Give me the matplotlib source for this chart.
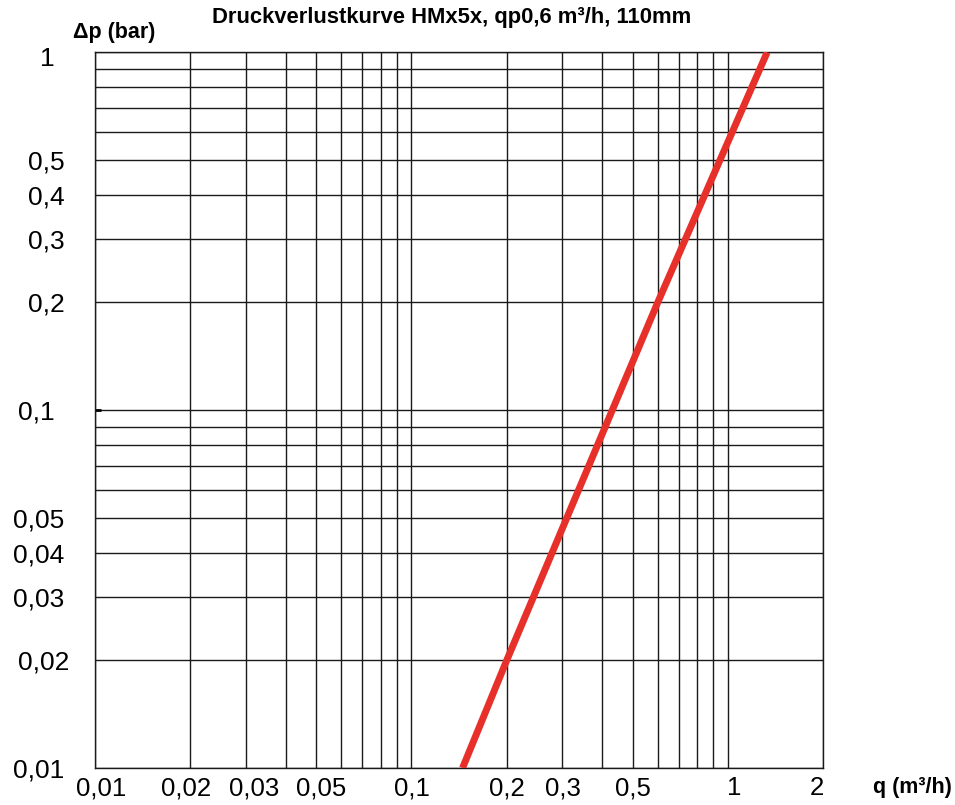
import matplotlib
matplotlib.use("Agg")
import matplotlib.pyplot as plt
import matplotlib.transforms as mtransforms

plt.rcParams['font.family'] = ['Liberation Sans', 'DejaVu Sans']

# curve: flow q (m³/h) vs pressure loss Δp (bar)
q_val = [0.145, 0.2, 0.6, 1.33]
dp_val = [0.01, 0.02, 0.2, 1.0]

# grid lines and labelled ticks
x_grid = [0.01, 0.02, 0.03, 0.04, 0.05, 0.06, 0.07, 0.08, 0.09,
          0.1, 0.2, 0.3, 0.4, 0.5, 0.6, 0.7, 0.8, 0.9, 1, 2]
x_labeled = [0.01, 0.02, 0.03, 0.05, 0.1, 0.2, 0.3, 0.5, 1, 2]
y_grid = [0.01, 0.02, 0.03, 0.04, 0.05, 0.06, 0.07, 0.08, 0.09,
          0.1, 0.2, 0.3, 0.4, 0.5, 0.6, 0.7, 0.8, 0.9, 1]
y_labeled = [0.01, 0.02, 0.03, 0.04, 0.05, 0.1, 0.2, 0.3, 0.4, 0.5, 1]

# small nudges (pixels) of some labels, as in the original drawing
x_nudge = {0.01: 6, 0.02: -4, 0.03: 8, 0.05: 5, 1: 6, 2: -6}
y_nudge = {1: (-10, -4), 0.1: (-10, 0), 0.02: (5, 0)}


def fmt(v):
    return ('%g' % v).replace('.', ',')


fig = plt.figure(figsize=(9.55, 8.05), dpi=100)
ax = fig.add_axes([0.0995, 0.046, 0.7625, 0.889])
ax.set_xscale('log')
ax.set_yscale('log')
ax.set_xlim(0.01, 2)
ax.set_ylim(0.01, 1)

for xv in x_grid:
    ax.axvline(xv, color='#1a1a1a', lw=1.0, zorder=1)
for yv in y_grid:
    ax.axhline(yv, color='#1a1a1a', lw=1.0, zorder=1)

ax.plot(q_val, dp_val, color='#e8302a', lw=5, solid_capstyle='butt', zorder=3)

ax.minorticks_off()
ax.set_xticks(x_grid)
ax.set_xticklabels([fmt(v) if v in x_labeled else '' for v in x_grid])
ax.set_yticks(y_grid)
ax.set_yticklabels([fmt(v) if v in y_labeled else '' for v in y_grid])
ax.tick_params(axis='x', length=0, pad=6, labelsize=18.5)
ax.tick_params(axis='y', length=0, pad=22, labelsize=19, direction='in')

for v, lab in zip(x_grid, ax.get_xticklabels()):
    if v in x_nudge:
        off = mtransforms.ScaledTranslation(x_nudge[v] / 100, 0, fig.dpi_scale_trans)
        lab.set_transform(lab.get_transform() + off)
for v, lab in zip(y_grid, ax.get_yticklabels()):
    if v in y_nudge:
        dx, dy = y_nudge[v]
        off = mtransforms.ScaledTranslation(dx / 100, dy / 100, fig.dpi_scale_trans)
        lab.set_transform(lab.get_transform() + off)

# the one little tick stub at 0,1 on the left axis (inside)
for v, tk in zip(y_grid, ax.yaxis.get_major_ticks()):
    if v == 0.1:
        tk.tick1line.set_markersize(4)
        tk.tick1line.set_markeredgewidth(2)

for s in ax.spines.values():
    s.set_color('#1a1a1a')
    s.set_linewidth(1.0)

fig.text(0.473, 0.978, 'Druckverlustkurve HMx5x, qp0,6 m³/h, 110mm',
         ha='center', va='center', fontsize=15.8, fontweight='bold')
fig.text(0.076, 0.960, 'Δp (bar)', ha='left', va='center',
         fontsize=15.5, fontweight='bold')
fig.text(0.914, 0.022, 'q (m³/h)', ha='left', va='center',
         fontsize=15.5, fontweight='bold')

plt.savefig('out.png', dpi=100)
